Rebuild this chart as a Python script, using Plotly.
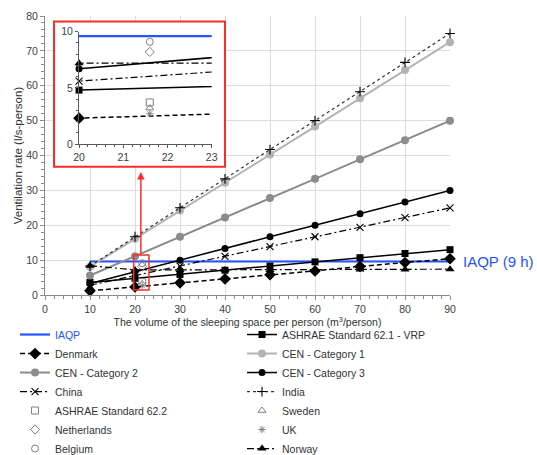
import plotly.graph_objects as go

# ---------------- data ----------------
volume = [10, 20, 30, 40, 50, 60, 70, 80, 90]
iaqp_x = [10, 90]
iaqp_y = [9.6, 9.6]
vrp = [3.6, 4.8, 5.9, 7.1, 8.3, 9.5, 10.7, 11.9, 13.0]
denmark = [1.2, 2.3, 3.5, 4.6, 5.8, 6.9, 8.2, 9.3, 10.4]
cen1 = [8.1, 16.1, 24.2, 32.2, 40.3, 48.3, 56.4, 64.5, 72.5]
cen2 = [5.6, 11.1, 16.7, 22.2, 27.8, 33.3, 38.9, 44.4, 50.0]
cen3 = [3.3, 6.7, 10.0, 13.3, 16.7, 20.0, 23.3, 26.7, 30.0]
china = [2.8, 5.6, 8.3, 11.1, 13.9, 16.7, 19.4, 22.2, 25.0]
india = [8.3, 16.7, 25.0, 33.3, 41.7, 50.0, 58.3, 66.7, 75.0]
norway = [8.4, 7.2, 7.2, 7.2, 7.2, 7.3, 7.3, 7.3, 7.4]
single_x = [21.6]
ashrae622 = [3.7]
sweden = [3.2]
netherlands = [8.2]
uk = [2.7]
belgium = [9.1]

BLUE = "#2454ff"
BLACK = "#000000"
LGRAY = "#b3b3b3"
MGRAY = "#8c8c8c"
OGRAY = "#7f7f7f"

def mk(symbol, size, color, lw=0.0):
    return dict(symbol=symbol, size=size, color=color, line=dict(width=lw, color=color))

# name, x, y, mode, line, marker
series = [
    ('<span style="color:%s">IAQP</span>' % BLUE, iaqp_x, iaqp_y, "lines",
     dict(color=BLUE, width=2.2), None),
    ("ASHRAE Standard 62.1 - VRP", volume, vrp, "lines+markers",
     dict(color=BLACK, width=1.5), mk("square", 7, BLACK)),
    ("Denmark", volume, denmark, "lines+markers",
     dict(color=BLACK, width=1.5, dash="5px,3px"), mk("diamond", 9, BLACK)),
    ("CEN - Category 1", volume, cen1, "lines+markers",
     dict(color=LGRAY, width=2), mk("circle", 8, LGRAY)),
    ("CEN - Category 2", volume, cen2, "lines+markers",
     dict(color=MGRAY, width=2), mk("circle", 8, MGRAY)),
    ("CEN - Category 3", volume, cen3, "lines+markers",
     dict(color=BLACK, width=1.5), mk("circle", 7, BLACK)),
    ("China", volume, china, "lines+markers",
     dict(color=BLACK, width=1.2, dash="7px,3px,2px,3px"), mk("x-thin-open", 7, BLACK, 1.1)),
    ("India", volume, india, "lines+markers",
     dict(color="#333333", width=1.2, dash="dot"), mk("cross-thin-open", 7, BLACK, 1.1)),
    ("ASHRAE Standard 62.2", single_x, ashrae622, "markers", None, mk("square-open", 7, OGRAY, 1)),
    ("Sweden", single_x, sweden, "markers", None, mk("triangle-up-open", 7, OGRAY, 1)),
    ("Netherlands", single_x, netherlands, "markers", None, mk("diamond-open", 7, OGRAY, 1)),
    ("UK", single_x, uk, "markers", None, mk("asterisk-open", 6, OGRAY, 1)),
    ("Belgium", single_x, belgium, "markers", None, mk("circle-open", 7, OGRAY, 1)),
    ("Norway", volume, norway, "lines+markers",
     dict(color=BLACK, width=1.2, dash="7px,3px,2px,3px"), mk("triangle-up", 8, BLACK)),
]

fig = go.Figure()

# main chart
for name, x, y, mode, line, marker in series:
    kw = dict(x=x, y=y, mode=mode, name=name, cliponaxis=False,
              xaxis="x", yaxis="y", showlegend=True, hoverinfo="skip")
    if line is not None:
        kw["line"] = line
    if marker is not None:
        kw["marker"] = marker
    fig.add_trace(go.Scatter(**kw))

# inset (zoom of 20-23 m3/person)
INSET_X0 = 20
for name, x, y, mode, line, marker in series:
    if line is not None:
        fig.add_trace(go.Scatter(x=x, y=y, mode="lines", line=line, showlegend=False,
                                 xaxis="x2", yaxis="y2", hoverinfo="skip"))
    if marker is not None:
        pts = [(xi, yi) for xi, yi in zip(x, y) if INSET_X0 <= xi <= 23 and yi <= 10]
        if pts:
            fig.add_trace(go.Scatter(x=[p[0] for p in pts], y=[p[1] for p in pts],
                                     mode="markers", marker=marker, showlegend=False,
                                     cliponaxis=False, xaxis="x2", yaxis="y2",
                                     hoverinfo="skip"))

AX = "#8c8c8c"
TICKF = dict(family="Liberation Sans, Arial, sans-serif", size=10.5, color="#404040")

fig.update_layout(
    width=537, height=455,
    margin=dict(l=45, r=87, t=16, b=160, autoexpand=False),
    paper_bgcolor="white", plot_bgcolor="white",
    font=dict(family="Liberation Sans, Arial, sans-serif", size=10.5, color="#333333"),
    xaxis=dict(range=[0, 90], dtick=10, tick0=0, showgrid=True, gridcolor="#dcdcdc",
               gridwidth=1, showline=True, linecolor=AX, linewidth=1, zeroline=False,
               ticks="outside", ticklen=4, tickcolor=AX, tickfont=TICKF,
               minor=dict(dtick=2, ticks="outside", ticklen=3, tickcolor=AX, showgrid=False),
               title=dict(text="The volume of the sleeping space per person (m<sup>3</sup>/person)",
                          font=dict(size=10.5, color="#333333"), standoff=2),
               domain=[0, 1]),
    yaxis=dict(range=[0, 80], dtick=10, tick0=0, showgrid=True, gridcolor="#dcdcdc",
               gridwidth=1, showline=True, linecolor=AX, linewidth=1, zeroline=False,
               ticks="outside", ticklen=4, tickcolor=AX, tickfont=TICKF,
               minor=dict(dtick=2, ticks="outside", ticklen=3, tickcolor=AX, showgrid=False),
               title=dict(text="Ventilation rate (l/s-person)",
                          font=dict(size=11.5, color="#333333"), standoff=1),
               domain=[0, 1]),
    xaxis2=dict(range=[20, 23], dtick=1, tick0=20, showgrid=False, zeroline=False,
                showline=True, linecolor="#595959", linewidth=1, anchor="y2",
                ticks="outside", ticklen=3, tickcolor="#595959", tickfont=TICKF,
                minor=dict(dtick=0.2, ticks="outside", ticklen=2, tickcolor="#595959"),
                domain=[0.084, 0.4116]),
    yaxis2=dict(range=[0, 10], dtick=5, tick0=0, showgrid=False, zeroline=False,
                showline=True, linecolor="#595959", linewidth=1, anchor="x2",
                ticks="outside", ticklen=3, tickcolor="#595959", tickfont=TICKF,
                minor=dict(dtick=1, ticks="outside", ticklen=2, tickcolor="#595959"),
                domain=[0.5412, 0.9437]),
    legend=dict(orientation="h", xref="paper", yref="paper",
                x=-0.074, y=-0.0897, xanchor="left", yanchor="top",
                entrywidth=182, entrywidthmode="pixels", itemwidth=30,
                font=dict(size=10.5, color="#333333"), bgcolor="rgba(0,0,0,0)",
                traceorder="normal", tracegroupgap=0),
    showlegend=True,
)

# white framed box behind the inset (above main grid, below traces)
fig.add_shape(type="rect", xref="x", yref="y", x0=2.0, x1=40.0, y0=36.8, y1=78.4,
              layer="between", fillcolor="white", line=dict(color="#ff2a2a", width=2))
# zoomed region marker in the main chart
fig.add_shape(type="rect", xref="x", yref="y", x0=19.7, x1=23.1, y0=1.4, y1=11.5,
              layer="above", fillcolor="rgba(0,0,0,0)", line=dict(color="#ff2a2a", width=1.5))
# arrow from zoom region to inset
fig.add_annotation(x=21.3, y=35.3, ax=21.3, ay=11.5, xref="x", yref="y",
                   axref="x", ayref="y", showarrow=True, arrowhead=2, arrowsize=1,
                   arrowwidth=1.5, arrowcolor="#ff2a2a", text="")
# IAQP label
fig.add_annotation(x=90, y=9.6, xref="x", yref="y", text="IAQP (9 h)", showarrow=False,
                   xanchor="left", xshift=11, font=dict(size=15, color=BLUE))

fig.write_html("out.html")
